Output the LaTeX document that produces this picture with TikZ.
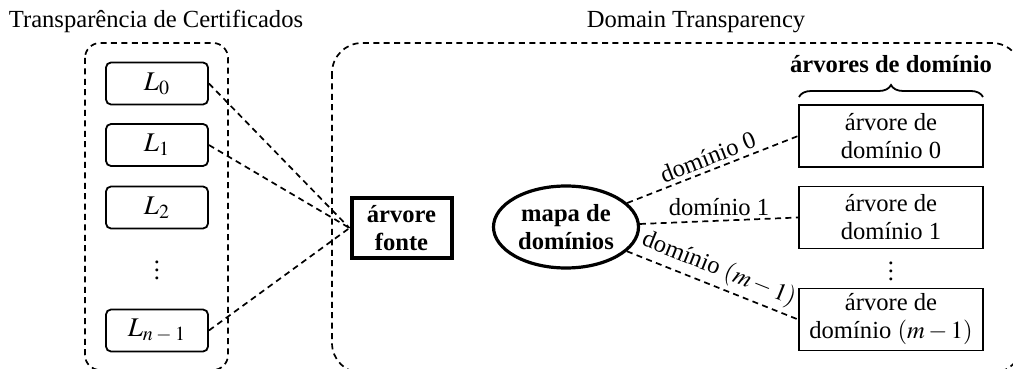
\documentclass[tikz,border=0pt]{standalone}
\usepackage{mathptmx}
\usepackage{fontspec}
\setmainfont{Liberation Serif}
\usetikzlibrary{shapes.geometric,decorations.pathreplacing}
\begin{document}
\begin{tikzpicture}[x=0.5pt,y=-0.5pt,
  every node/.style={font=\fontsize{12.3}{14}\selectfont},
  dashline/.style={dash pattern=on 3pt off 2.2pt, line width=0.85pt},
  groupbox/.style={dash pattern=on 3pt off 2.2pt, line width=0.85pt},
  lbox/.style={draw, rounded corners=2.5pt, line width=0.9pt, minimum width=51pt, minimum height=21pt, inner sep=0pt, font=\fontsize{13.5}{15}\selectfont},
  tbox/.style={draw, line width=0.9pt, minimum width=92pt, minimum height=31pt, inner sep=0pt, align=center},
  fontebox/.style={draw, line width=2pt, minimum width=50pt, minimum height=30pt, inner sep=0pt, align=center, font=\fontsize{12.3}{14}\selectfont\bfseries},
  mapell/.style={draw, ellipse, line width=1.6pt, minimum width=72.5pt, minimum height=41pt, inner sep=0pt, align=center, font=\fontsize{12.3}{14}\selectfont\bfseries},
  elabel/.style={font=\fontsize{12.3}{14}\selectfont, inner sep=2pt}
]
\useasboundingbox (0,0) rectangle (1013,369);
\clip (0,0) rectangle (1013,369);

% titles
\node[anchor=base] (tl) at (156,28) {Transparência de Certificados};
\node[anchor=base] (tr) at (696,28) {Domain Transparency};

% group boxes
\draw[groupbox, rounded corners=7.5pt] (85,43) rectangle (228,370);
\draw[groupbox, rounded corners=15pt] (332,43) rectangle (1022,373);

% log boxes
\node[lbox] (l0) at (157,83.5) {$L_0$};
\node[lbox] (l1) at (157,145) {$L_1$};
\node[lbox] (l2) at (157,207.5) {$L_2$};
\node (ldots) at (157,264) {$\vdots$};
\node[lbox] (ln) at (157,330.5) {$L_{n\mskip3mu-\mskip3mu1}$};

% source tree
\node[fontebox] (fonte) at (401.5,228) {árvore\\fonte};

% domain map
\node[mapell] (map) at (566,227) {mapa de\\domínios};

% domain trees
\node[tbox] (d0) at (891,136) {árvore de\\domínio 0};
\node[tbox] (d1) at (891,217.5) {árvore de\\domínio 1};
\node (ddots) at (891,265) {$\vdots$};
\node[tbox] (dm) at (891,319.5) {árvore de\\domínio $(m-1)$};

% brace
\coordinate (bl) at (799,97);
\coordinate (br) at (983,97);
\draw[line width=0.9pt, decorate, decoration={brace, amplitude=6pt}] (bl) -- (br);
\node[anchor=base, font=\fontsize{12.3}{14}\selectfont\bfseries] (blab) at (891,73) {árvores de domínio};

% connectors
\draw[dashline] (l0.east) -- (fonte.west);
\draw[dashline] (l1.east) -- (fonte.west);
\draw[dashline] (ln.east) -- (fonte.west);

\draw[dashline] (map) -- node[elabel, sloped, above] {domínio 0} (d0.west);
\draw[dashline] (map) -- node[elabel, above] {domínio 1} (d1.west);
\draw[dashline] (map) -- node[elabel, sloped, above] {domínio $(m-1)$} (dm.west);
\end{tikzpicture}
\end{document}
